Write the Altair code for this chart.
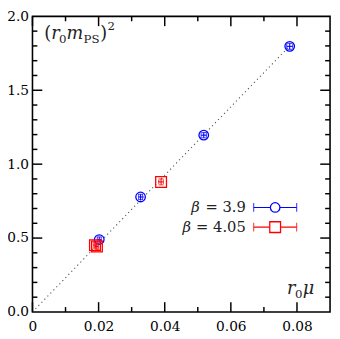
import altair as alt
import pandas as pd

# ---------------- data ----------------
b39_x = [0.0202, 0.0327, 0.0518, 0.0778]
b39_y = [0.490, 0.778, 1.196, 1.797]
b39_xerr = [0.0006, 0.0006, 0.0008, 0.0009]
b39_yerr = [0.018, 0.018, 0.018, 0.020]

b405_x = [0.0189, 0.0195, 0.0389]
b405_y = [0.452, 0.443, 0.880]
b405_xerr = [0.0005, 0.0005, 0.0007]
b405_yerr = [0.020, 0.020, 0.020]

fit_x = [0.0, 0.0778]
fit_y = [0.0, 1.80]

x_major = [0.0, 0.02, 0.04, 0.06, 0.08]
x_minor = [0.01, 0.03, 0.05, 0.07]
y_major = [0.0, 0.5, 1.0, 1.5, 2.0]
y_minor = [0.1, 0.2, 0.3, 0.4, 0.6, 0.7, 0.8, 0.9, 1.1, 1.2, 1.3, 1.4, 1.6, 1.7, 1.8, 1.9]

leg_beta = ["3.9", "4.05"]
leg_y = [0.707, 0.574]
leg_colors = ["#0000ff", "#ff0000"]
leg_shapes = ["circle", "square"]
leg_x_lo, leg_x_mid, leg_x_hi, leg_text_x = 0.0669, 0.0734, 0.0799, 0.0645

W, H = 304, 302
FONT = "DejaVu Serif"
BLUE, RED = "#0000ff", "#ff0000"

xs = alt.Scale(domain=[0, 0.09], nice=False, zero=False)
ys = alt.Scale(domain=[0, 2.0], nice=False, zero=False)

AX = alt.Axis(values=x_major, format="~g", ticks=False, domain=False, grid=False, title=None,
              labelFont=FONT, labelFontSize=14, labelColor="black", labelPadding=8,
              labelFlush=False, labelOverlap=False)
AY = alt.Axis(values=y_major, format=".1f", ticks=False, domain=False, grid=False, title=None,
              labelFont=FONT, labelFontSize=14, labelColor="black", labelPadding=4,
              labelFlush=False, labelOverlap=False)


def df_err(xv, yv, xe, ye):
    return pd.DataFrame({
        "x": xv, "y": yv,
        "xlo": [a - b for a, b in zip(xv, xe)], "xhi": [a + b for a, b in zip(xv, xe)],
        "ylo": [a - b for a, b in zip(yv, ye)], "yhi": [a + b for a, b in zip(yv, ye)],
    })


d39 = df_err(b39_x, b39_y, b39_xerr, b39_yerr)
d405 = df_err(b405_x, b405_y, b405_xerr, b405_yerr)

X = lambda f="x": alt.X(f"{f}:Q", scale=xs, axis=AX)
Y = lambda f="y": alt.Y(f"{f}:Q", scale=ys, axis=AY)

fit = alt.Chart(pd.DataFrame({"x": fit_x, "y": fit_y})).mark_line(
    color="#555555", strokeWidth=1.1, strokeDash=[1.2, 3.2]
).encode(x=X(), y=Y())


def series(d, color, shape, size):
    base = alt.Chart(d)
    xe = base.mark_rule(color=color, strokeWidth=1.1).encode(x=X("xlo"), x2="xhi", y=Y())
    ye = base.mark_rule(color=color, strokeWidth=1.1).encode(x=X(), y=Y("ylo"), y2="yhi")
    cap_l = base.mark_tick(color=color, thickness=1.1, size=5, orient="vertical").encode(x=X("xlo"), y=Y())
    cap_r = base.mark_tick(color=color, thickness=1.1, size=5, orient="vertical").encode(x=X("xhi"), y=Y())
    cap_b = base.mark_tick(color=color, thickness=1.1, size=5, orient="horizontal").encode(x=X(), y=Y("ylo"))
    cap_t = base.mark_tick(color=color, thickness=1.1, size=5, orient="horizontal").encode(x=X(), y=Y("yhi"))
    pts = base.mark_point(shape=shape, filled=False, color=color, strokeWidth=1.3, size=size, opacity=1).encode(x=X(), y=Y())
    return [xe, ye, cap_l, cap_r, cap_b, cap_t, pts]


def hticks(vals, length):
    d = pd.DataFrame({"v": vals})
    b = alt.Chart(d).mark_rule(color="black", strokeWidth=1.5).encode(
        x=X("v"), y=alt.value(H), y2=alt.value(H - length))
    t = alt.Chart(d).mark_rule(color="black", strokeWidth=1.5).encode(
        x=X("v"), y=alt.value(0), y2=alt.value(length))
    return [b, t]


def vticks(vals, length):
    d = pd.DataFrame({"v": vals})
    l = alt.Chart(d).mark_rule(color="black", strokeWidth=1.5).encode(
        y=Y("v"), x=alt.value(0), x2=alt.value(length))
    r = alt.Chart(d).mark_rule(color="black", strokeWidth=1.5).encode(
        y=Y("v"), x=alt.value(W), x2=alt.value(W - length))
    return [l, r]


ticks = hticks(x_major, 10) + hticks(x_minor, 5) + vticks(y_major[1:-1], 10) + vticks(y_minor, 5)

leg = pd.DataFrame({"lab": ["= " + b for b in leg_beta], "y": leg_y,
                    "lo": [leg_x_lo] * 2, "mid": [leg_x_mid] * 2, "hi": [leg_x_hi] * 2,
                    "tx": [leg_text_x] * 2})
legend_layers = []
for i in range(2):
    li = leg.iloc[[i]]
    c = leg_colors[i]
    b = alt.Chart(li)
    legend_layers += [
        b.mark_rule(color=c, strokeWidth=1.2).encode(x=X("lo"), x2="hi", y=Y()),
        b.mark_tick(color=c, thickness=1.2, size=9, orient="vertical").encode(x=X("lo"), y=Y()),
        b.mark_tick(color=c, thickness=1.2, size=9, orient="vertical").encode(x=X("hi"), y=Y()),
        b.mark_point(shape=leg_shapes[i], filled=True, fill="white", stroke=c, strokeWidth=1.3,
                     size=95 if i == 0 else 121, opacity=1).encode(x=X("mid"), y=Y()),
        b.mark_text(font=FONT, fontSize=15, align="right", baseline="middle", color="#222").encode(
            x=X("tx"), y=Y(), text="lab:N"),
        b.mark_text(font=FONT, fontSize=15, fontStyle="italic", align="right", baseline="middle",
                    color="#222", dx=-(47 if i == 0 else 56)).encode(x=X("tx"), y=Y(), text=alt.value("β")),
    ]


def pieces(x0, y0, parts):
    out = []
    d = pd.DataFrame({"x": [x0], "y": [y0]})
    for txt, dx, dy, size, style in parts:
        out.append(alt.Chart(d).mark_text(font=FONT, fontSize=size, fontStyle=style, align="left",
                                          baseline="alphabetic", dx=dx, dy=dy, color="#222").encode(
            x=X(), y=Y(), text=alt.value(txt)))
    return out


ylab = pieces(0.0036, 1.848, [
    ("(", 0, 0, 18, "normal"), ("r", 7, 0, 18, "italic"), ("0", 15, 4, 12, "normal"),
    ("m", 22.5, 0, 18, "italic"), ("PS", 40, 4, 12, "normal"), (")", 57, 0, 18, "normal"),
    ("2", 64.5, -9, 12, "normal")])
xlab = pieces(0.0770, 0.119, [
    ("r", 0, 0, 18, "italic"), ("0", 8, 4, 12, "normal"), ("μ", 16, 0, 18, "italic")])

layers = [fit] + ticks + series(d39, BLUE, "circle", 95) + series(d405, RED, "square", 121) \
    + legend_layers + ylab + xlab

chart = alt.layer(*layers).properties(
    width=W, height=H, background="white",
    autosize=alt.AutoSizeParams(type="none"),
    padding={"left": 25, "top": 5, "right": 2, "bottom": 20},
).configure_view(stroke="black", strokeWidth=1.6)

chart.save("out.html", embed_options={"renderer": "svg", "actions": False})
